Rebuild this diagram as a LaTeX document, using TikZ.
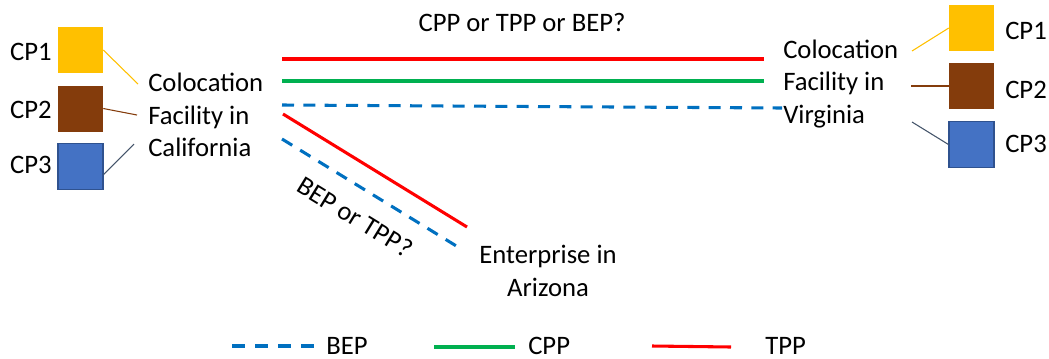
\documentclass[tikz,border=0pt]{standalone}
\usepackage{fontspec}
\setmainfont{Carlito}
\definecolor{cpyellow}{HTML}{FFC000}
\definecolor{cpbrown}{HTML}{843C0C}
\definecolor{cpblue}{HTML}{4472C4}
\definecolor{cpblueedge}{HTML}{2F528F}
\definecolor{slateline}{HTML}{44546A}
\definecolor{bepblue}{HTML}{0070C0}
\definecolor{cppgreen}{HTML}{00B050}
\definecolor{tppred}{HTML}{FF0000}
\begin{document}
\begin{tikzpicture}[x=0.75pt,y=-0.75pt,
  lbl/.style={font=\fontsize{20}{24.4}\selectfont, inner sep=0pt},
  cpbox/.style={minimum width=33.75pt, minimum height=34.5pt, inner sep=0pt},
  leader/.style={line width=0.8pt},
  bep/.style={bepblue, line width=2.3pt, dash pattern=on 9pt off 7pt},
  cpp/.style={cppgreen, line width=2.3pt},
  tpp/.style={tppred, line width=2.3pt}]
\useasboundingbox (0,0) rectangle (1049,358);

% California site and its providers
\node[cpbox, fill=cpyellow] (lcp1) at (80.5,50) {};
\node[cpbox, fill=cpbrown] (lcp2) at (80.5,108.5) {};
\node[cpbox, fill=cpblue, draw=cpblueedge, line width=0.8pt] (lcp3) at (80.5,166.5) {};
\node[lbl, anchor=center] (lcp1t) at (31,52) {CP1};
\node[lbl, anchor=center] (lcp2t) at (31,110) {CP2};
\node[lbl, anchor=center] (lcp3t) at (31,165) {CP3};
\node[lbl, anchor=west, align=left] (cal) at (148,115) {Colocation\\Facility in\\California};
\coordinate (calA) at (138,84);
\coordinate (calB) at (137,115);
\coordinate (calC) at (134,144);
\draw[leader, cpyellow] (lcp1.east) -- (calA);
\draw[leader, cpbrown] (lcp2.east) -- (calB);
\draw[leader, slateline] ([yshift=-6pt]lcp3.east) -- (calC);

% Virginia site and its providers
\node[cpbox, fill=cpyellow] (rcp1) at (971.5,28) {};
\node[cpbox, fill=cpbrown] (rcp2) at (971.5,86) {};
\node[cpbox, fill=cpblue, draw=cpblueedge, line width=0.8pt] (rcp3) at (971.5,144.5) {};
\node[lbl, anchor=west] (rcp1t) at (1005,31) {CP1};
\node[lbl, anchor=west] (rcp2t) at (1005,90) {CP2};
\node[lbl, anchor=west] (rcp3t) at (1005,144) {CP3};
\node[lbl, anchor=west, align=left] (vir) at (783,84) {Colocation\\Facility in\\Virginia};
\coordinate (virA) at (912,51);
\coordinate (virB) at (911,86);
\coordinate (virC) at (912,122);
\draw[leader, cpyellow] (virA) -- (rcp1.west);
\draw[leader, cpbrown] (virB) -- (rcp2.west);
\draw[leader, slateline] (virC) -- (rcp3.west);

% Arizona enterprise
\node[lbl, align=center] (ari) at (548,271) {Enterprise in\\Arizona};

% Links between the sites
\coordinate (cvRedA) at (282,59);   \coordinate (cvRedB) at (764,59);
\coordinate (cvGrnA) at (282,81);   \coordinate (cvGrnB) at (764,81);
\coordinate (cvBluA) at (282,105);  \coordinate (cvBluB) at (782,108);
\coordinate (caRedA) at (283,114);  \coordinate (caRedB) at (467,227);
\coordinate (caBluA) at (282,139);  \coordinate (caBluB) at (458,247);
\draw[tpp] (cvRedA) -- (cvRedB);
\draw[cpp] (cvGrnA) -- (cvGrnB);
\draw[bep] (cvBluA) -- (cvBluB);
\draw[tpp] (caRedA) -- (caRedB);
\draw[bep] (caBluA) -- (caBluB);

\node[lbl] (q1) at (522,22) {CPP or TPP or BEP?};
\node[lbl, rotate=-31.5] (q2) at (355,217) {BEP or TPP?};

% Legend
\coordinate (kBepA) at (232,346); \coordinate (kBepB) at (314,346);
\coordinate (kCppA) at (434,347); \coordinate (kCppB) at (515,347);
\coordinate (kTppA) at (652,346); \coordinate (kTppB) at (731,347);
\draw[bep, dash pattern=on 9.75pt off 7.5pt] (kBepA) -- (kBepB);
\draw[cpp] (kCppA) -- (kCppB);
\draw[tpp] (kTppA) -- (kTppB);
\node[lbl, anchor=west] (kBep) at (326,346) {BEP};
\node[lbl, anchor=west] (kCpp) at (528,346) {CPP};
\node[lbl, anchor=west] (kTpp) at (765,346) {TPP};
\end{tikzpicture}
\end{document}
